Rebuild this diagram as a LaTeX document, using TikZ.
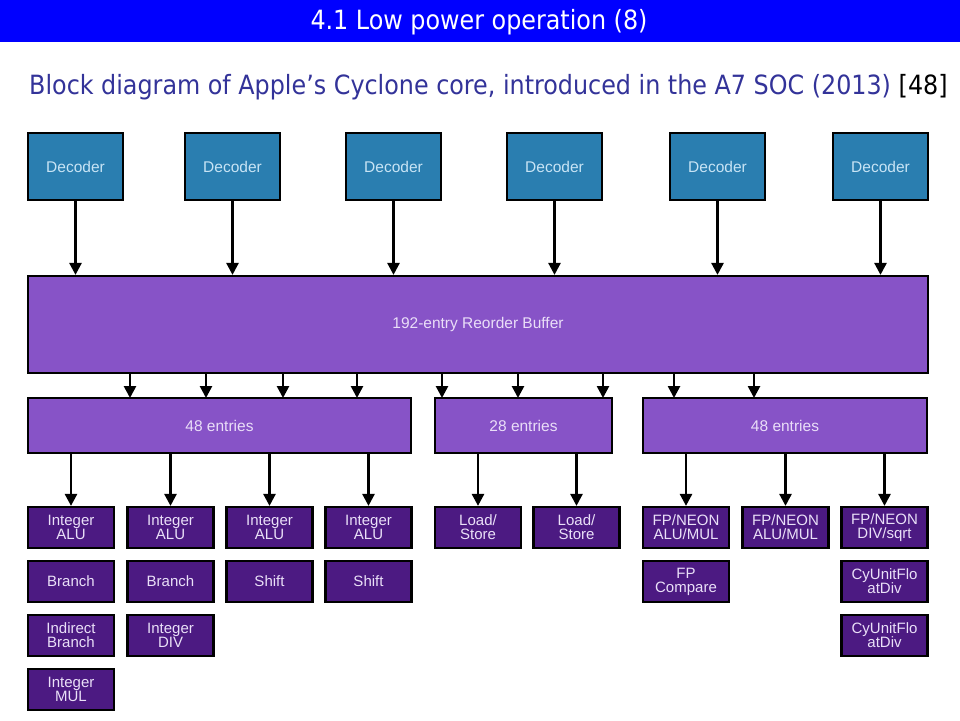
\documentclass[tikz,border=0pt]{standalone}
\usepackage{fontspec}
\setmainfont{Liberation Sans}
\newfontfamily\slidefont{DejaVu Sans Condensed}
\usepackage{tikz}
\usetikzlibrary{arrows.meta, positioning, calc}
\usepackage{xcolor}

\definecolor{slideblue}{RGB}{0,0,255}
\definecolor{subblue}{RGB}{51,51,153}
\definecolor{decfill}{RGB}{42,126,176}
\definecolor{dectext}{RGB}{200,228,245}
\definecolor{robfill}{RGB}{135,83,199}
\definecolor{robtext}{RGB}{234,222,248}
\definecolor{unitfill}{RGB}{76,26,130}
\definecolor{unittext}{RGB}{234,224,248}

\begin{document}
\begin{tikzpicture}[x=1pt, y=-1pt, >={Triangle[length=12pt, width=12pt]}]

		% Define block styles
		\tikzstyle{decoder} = [rectangle, draw, line width=2.2pt, fill=decfill, text=dectext, minimum width=95pt, minimum height=67pt, font=\fontsize{15.5}{16}\selectfont, text centered]
		\tikzstyle{buffer} = [rectangle, draw, line width=2.2pt, fill=robfill, text=robtext, minimum height=55pt, font=\fontsize{15.5}{16}\selectfont, text centered]
		\tikzstyle{unit} = [rectangle, draw, line width=2.2pt, fill=unitfill, text=unittext, minimum width=86pt, minimum height=41pt, inner sep=0pt, align=center, font=\fontsize{15}{14}\selectfont]
		\tikzstyle{flow} = [->, line width=2.6pt]

		\useasboundingbox (0,0) rectangle (960,720);

		% Title
		\fill[slideblue] (0,0) rectangle (960,42);
		\node[text=white, font=\slidefont\fontsize{26.5}{27}\selectfont] (title) at (479,22) {4.1 Low power operation (8)};
		\node[anchor=west, text=subblue, inner sep=0pt, font=\slidefont\fontsize{26.5}{27}\selectfont] (subtitle) at (29,87) {Block diagram of Apple’s Cyclone core, introduced in the A7 SOC (2013) {\color{black}[48]}};

		% Decoders
		\node[decoder] (dec1) at (75.5,166.5) {Decoder};
		\node[decoder, right of=dec1, node distance=157pt] (dec2) {Decoder};
		\node[decoder, right of=dec2, node distance=161pt] (dec3) {Decoder};
		\node[decoder, right of=dec3, node distance=161pt] (dec4) {Decoder};
		\node[decoder, right of=dec4, node distance=163pt] (dec5) {Decoder};
		\node[decoder, right of=dec5, node distance=163pt] (dec6) {Decoder};

		% Reorder buffer and queues
		\node[buffer, minimum width=900pt, minimum height=97pt] (rob) at (478,324.5) {192-entry Reorder Buffer};
		\node[buffer, minimum width=383pt] (q1) at (219.5,425.5) {48 entries};
		\node[buffer, minimum width=177pt] (q2) at (523.5,425.5) {28 entries};
		\node[buffer, minimum width=284pt] (q3) at (785,425.5) {48 entries};

		% Execution units
		\node[unit] (ialu1) at (71,527.5) {Integer\\ALU};
		\node[unit, below of=ialu1, node distance=54pt] (br1) {Branch};
		\node[unit, below of=br1, node distance=54pt] (ibr) {Indirect\\Branch};
		\node[unit, below of=ibr, node distance=54pt] (imul) {Integer\\MUL};

		\node[unit] (ialu2) at (170.5,527.5) {Integer\\ALU};
		\node[unit, below of=ialu2, node distance=54pt] (br2) {Branch};
		\node[unit, below of=br2, node distance=54pt] (idiv) {Integer\\DIV};

		\node[unit] (ialu3) at (269.5,527.5) {Integer\\ALU};
		\node[unit, below of=ialu3, node distance=54pt] (sh1) {Shift};

		\node[unit] (ialu4) at (368.5,527.5) {Integer\\ALU};
		\node[unit, below of=ialu4, node distance=54pt] (sh2) {Shift};

		\node[unit] (ls1) at (478,527.5) {Load/\\Store};
		\node[unit] (ls2) at (576.5,527.5) {Load/\\Store};

		\node[unit] (fp1) at (686,527.5) {FP/NEON\\ALU/MUL};
		\node[unit, below of=fp1, node distance=54pt] (fpcmp) {FP\\Compare};

		\node[unit] (fp2) at (785.5,527.5) {FP/NEON\\ALU/MUL};

		\node[unit] (fp3) at (884.5,527.5) {FP/NEON\\DIV/sqrt};
		\node[unit, below of=fp3, node distance=54pt] (fdiv1) {CyUnitFlo\\atDiv};
		\node[unit, below of=fdiv1, node distance=54pt] (fdiv2) {CyUnitFlo\\atDiv};

		% Issue points on the queues
		\coordinate (p1) at (130,398);
		\coordinate (p2) at (206,398);
		\coordinate (p3) at (283,398);
		\coordinate (p4) at (357,398);
		\coordinate (p5) at (442,398);
		\coordinate (p6) at (518,398);
		\coordinate (p7) at (603,398);
		\coordinate (p8) at (674,398);
		\coordinate (p9) at (754,398);

		% Arrows
		\draw[flow] (dec1) -- (dec1 |- rob.north);
		\draw[flow] (dec2) -- (dec2 |- rob.north);
		\draw[flow] (dec3) -- (dec3 |- rob.north);
		\draw[flow] (dec4) -- (dec4 |- rob.north);
		\draw[flow] (dec5) -- (dec5 |- rob.north);
		\draw[flow] (dec6) -- (dec6 |- rob.north);

		\draw[flow] (p1 |- rob.south) -- (p1);
		\draw[flow] (p2 |- rob.south) -- (p2);
		\draw[flow] (p3 |- rob.south) -- (p3);
		\draw[flow] (p4 |- rob.south) -- (p4);
		\draw[flow] (p5 |- rob.south) -- (p5);
		\draw[flow] (p6 |- rob.south) -- (p6);
		\draw[flow] (p7 |- rob.south) -- (p7);
		\draw[flow] (p8 |- rob.south) -- (p8);
		\draw[flow] (p9 |- rob.south) -- (p9);

		\draw[flow] (ialu1 |- q1.south) -- (ialu1);
		\draw[flow] (ialu2 |- q1.south) -- (ialu2);
		\draw[flow] (ialu3 |- q1.south) -- (ialu3);
		\draw[flow] (ialu4 |- q1.south) -- (ialu4);
		\draw[flow] (ls1 |- q2.south) -- (ls1);
		\draw[flow] (ls2 |- q2.south) -- (ls2);
		\draw[flow] (fp1 |- q3.south) -- (fp1);
		\draw[flow] (fp2 |- q3.south) -- (fp2);
		\draw[flow] (fp3 |- q3.south) -- (fp3);

	\end{tikzpicture}
\end{document}
